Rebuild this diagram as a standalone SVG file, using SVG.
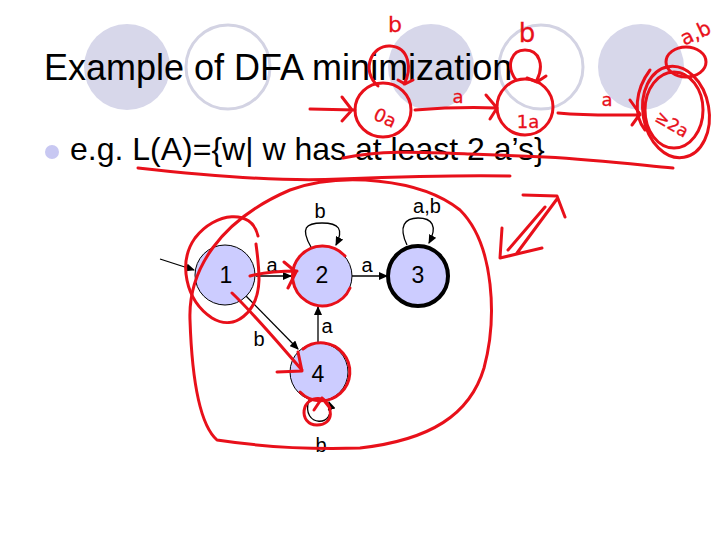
<svg xmlns="http://www.w3.org/2000/svg" width="720" height="540" viewBox="0 0 720 540">
<style>
.deco-f{fill:#d7d7ea;stroke:none}
.deco-o{fill:none;stroke:#d3d3e3;stroke-width:3}
.txt{font-family:"Liberation Sans",Arial,sans-serif;fill:#000}
.node{fill:#ccccff;stroke:#000;stroke-width:1}
.acc{fill:#ccccff;stroke:#000;stroke-width:4}
.lbl{font-family:"Liberation Sans",Arial,sans-serif;font-size:20px;fill:#000;text-anchor:middle}
.num{font-family:"Liberation Sans",Arial,sans-serif;font-size:23px;fill:#000;text-anchor:middle}
.edge{fill:none;stroke:#000;stroke-width:1.3;marker-end:url(#ah)}
.ink{fill:none;stroke:#e8101a;stroke-width:3;stroke-linecap:round;stroke-linejoin:round}
.hw{font-family:"DejaVu Sans",sans-serif;fill:#e8101a;stroke:#e8101a;stroke-width:0.3;text-anchor:middle}
</style>
<defs>
<marker id="ah" markerWidth="9" markerHeight="8" refX="8" refY="4" orient="auto" markerUnits="userSpaceOnUse">
<path d="M0,0 L9,4 L0,8 Z" fill="#000"/>
</marker>
</defs>
<rect width="720" height="540" fill="#fff"/>
<g id="decoration">
<circle class="deco-f" cx="127" cy="67" r="43"/>
<circle class="deco-o" cx="228" cy="67" r="42"/>
<circle class="deco-f" cx="431" cy="67" r="43"/>
<circle class="deco-o" cx="541" cy="67" r="42"/>
<circle class="deco-f" cx="641" cy="67" r="43"/>
</g>
<g id="title"><text class="txt" x="44" y="80" font-size="36">Example of DFA minimization</text></g>
<g id="bullet">
<circle cx="52" cy="152" r="7" fill="#c8c8f2"/>
<text class="txt" x="70" y="160" font-size="32">e.g. L(A)={w| w has at least 2 a’s}</text>
</g>
<g id="connectors">
<path class="edge" d="M160 259 L194 270"/>
<path class="edge" d="M256 276 L291 276"/>
<path class="edge" d="M352 276 L387 276"/>
<path class="edge" d="M246 296 L298 349"/>
<path class="edge" d="M318 343 L318 307"/>
<path class="edge" d="M311 247 C300 228 306 223 322 223 C339 223 344 229 336 245"/>
<path class="edge" d="M407 245 C398 226 405 218 418 218 C432 218 438 226 429 243"/>
<path class="edge" d="M309 400 C300 428 338 428 329 402"/>
<text class="lbl" x="272" y="272">a</text>
<text class="lbl" x="367" y="272">a</text>
<text class="lbl" x="259" y="346">b</text>
<text class="lbl" x="327" y="333">a</text>
<text class="lbl" x="320" y="218">b</text>
<text class="lbl" x="427" y="213">a,b</text>
<text class="lbl" x="321" y="452">b</text>
</g>
<g id="node1"><circle class="node" cx="225" cy="275" r="30"/><text class="num" x="226" y="283">1</text></g>
<g id="node2"><circle class="node" cx="322" cy="276" r="30"/><text class="num" x="322" y="283">2</text></g>
<g id="node3"><circle class="acc" cx="418" cy="276" r="30"/><text class="num" x="418" y="283">3</text></g>
<g id="node4"><circle class="node" cx="319" cy="372" r="29"/><text class="num" x="318" y="382">4</text></g>
<g id="ink">
<path class="ink" d="M138 168 C200 175 280 182 340 179 C420 176 470 175 510 176"/>
<path class="ink" d="M343 158 C380 150 420 152 470 154 L545 157 C600 160 640 165 673 168"/>
<path class="ink" d="M190 320 C188 270 220 220 290 190 C340 172 420 178 460 210 C495 245 497 320 484 368 C470 415 430 440 360 448 C300 450 250 445 217 440 C200 425 192 380 190 320 Z"/>
<path class="ink" d="M258 236 C252 208 215 212 195 238 C178 262 185 300 212 318 C235 332 258 312 259 280 C259 265 257 252 256 244"/>
<path class="ink" d="M250 276 C265 272 280 271 297 271 M284 262 L296 272 L288 288"/>
<path class="ink" d="M345 256 A30 30 0 1 0 350 288"/>
<path class="ink" d="M232 293 C255 315 280 345 302 370 M277 372 L302 371 L298 352"/>
<path class="ink" d="M303 349 A29 29 0 1 1 300 392"/>
<path class="ink" d="M322 399 C300 395 298 425 317 425 C335 425 333 405 322 398 M314 410 L322 398 L330 408"/>
<path class="ink" d="M508 250 L545 207 M517 253 L557 199 M523 195 L557 196 L565 217 M502 228 L500 258 L542 248"/>
<ellipse class="ink" cx="383" cy="110" rx="28" ry="27"/>
<path class="ink" d="M378 86 C360 70 372 45 390 46 C410 47 412 70 404 84 M398 80 L405 84 L413 80"/>
<path class="ink" d="M310 109 L355 110 M342 97 L352 110 L342 121"/>
<path class="ink" d="M415 110 C440 108 470 107 497 108 M486 95 L497 108 L490 119"/>
<circle class="ink" cx="525" cy="107" r="28"/>
<path class="ink" d="M516 80 C505 65 512 50 525 50 C540 50 544 66 537 80 M527 78 L537 82 L546 76"/>
<path class="ink" d="M558 113 C590 116 610 115 640 115 M630 100 L640 114 L632 125"/>
<ellipse class="ink" cx="674" cy="110" rx="29" ry="38"/>
<ellipse class="ink" cx="676" cy="112" rx="33" ry="46" transform="rotate(-10 676 112)"/>
<path class="ink" d="M650 70 C635 90 633 115 645 130"/>
<ellipse class="ink" cx="686" cy="62" rx="20" ry="15"/>
<text class="hw" x="395" y="32" font-size="22">b</text>
<text class="hw" x="385" y="124" font-size="18" transform="rotate(25 385 118)">0a</text>
<text class="hw" x="458" y="103" font-size="18">a</text>
<text class="hw" x="527" y="42" font-size="26">b</text>
<text class="hw" x="528" y="128" font-size="18">1a</text>
<text class="hw" x="607" y="106" font-size="18">a</text>
<text class="hw" x="695" y="40" font-size="20" transform="rotate(-25 695 32)">a,b</text>
<text class="hw" x="672" y="130" font-size="17" transform="rotate(30 672 124)">≥2a</text>
</g>
</svg>
